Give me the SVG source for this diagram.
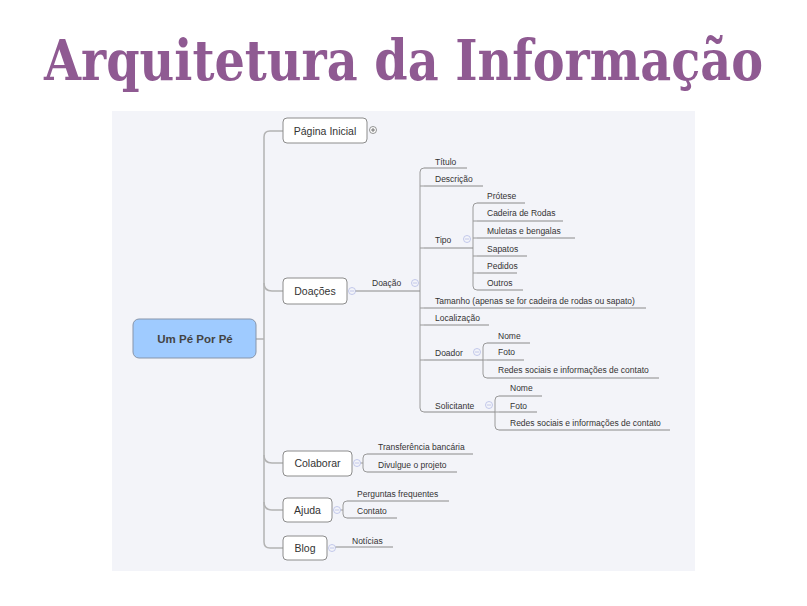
<svg xmlns="http://www.w3.org/2000/svg" width="807" height="606" viewBox="0 0 807 606">
<style>
.title{font-family:"DejaVu Serif",serif;font-weight:bold;font-size:56px;font-stretch:condensed;fill:#8f5a92}
.box{fill:#fff;stroke:#8c8c8c;stroke-width:1}
.bt{font-family:"Liberation Sans",Arial,sans-serif;font-size:10.5px;fill:#333;text-anchor:middle}
.rt{font-family:"Liberation Sans",Arial,sans-serif;font-size:11.5px;font-weight:bold;fill:#444;text-anchor:middle}
.st{font-family:"Liberation Sans",Arial,sans-serif;font-size:8.5px;fill:#333}
.ul{fill:none;stroke:#8a8a8a;stroke-width:1}
.cn{fill:none;stroke:#9a9a9a;stroke-width:1}
.tr{fill:none;stroke:#b3b3b3;stroke-width:1.5}
.ic{fill:#f3f4f9;stroke:#b5bde6;stroke-width:0.8}
.icg{fill:#fff;stroke:#777;stroke-width:0.8}
.im{stroke:#b5bde6;stroke-width:0.8}
.img{stroke:#555;stroke-width:0.8}
</style>
<rect x="0" y="0" width="807" height="606" fill="#fff"/>
<text class="title" x="403.5" y="80" text-anchor="middle" textLength="719" lengthAdjust="spacingAndGlyphs">Arquitetura da Informação</text>
<rect x="112" y="111" width="583" height="460" fill="#f3f4f9"/>

<g id="connectors">
<path class="tr" d="M256,339 H264"/>
<path class="tr" d="M283,131 H270 Q264,131 264,137 V542 Q264,548 270,548 H283"/>
<path class="tr" d="M264,283 Q264,291 272,291 H283"/>
<path class="tr" d="M264,455 Q264,463 272,463 H283"/>
<path class="tr" d="M264,502 Q264,510 272,510 H283"/>
<path class="cn" d="M424,168 Q420,168 420,172 V408 Q420,412 424,412"/>
<path class="cn" d="M420,186 H424 M420,248 H424 M420,308 H424 M420,325 H424 M420,360 H424"/>
<path class="cn" d="M477,203 Q473,203 473,207 V286 Q473,290 477,290"/>
<path class="cn" d="M473,221 H477 M473,238 H477 M473,256 H477 M473,273 H477"/>
<path class="cn" d="M487,343 Q483,343 483,347 V374 Q483,378 487,378"/>
<path class="cn" d="M483,360 H487"/>
<path class="cn" d="M499,396 Q495,396 495,400 V426 Q495,430 499,430"/>
<path class="cn" d="M495,412 H499"/>
<path class="cn" d="M367,454 Q363,454 363,458 V468 Q363,472 367,472"/>
<path class="cn" d="M347,501 Q343,501 343,505 V514 Q343,518 347,518"/>
<path class="cn" d="M360.5,463 H363 M340.5,510 H343"/>
</g>

<g id="root">
<rect x="133" y="319" width="123" height="39" rx="6" fill="#9fcbff" stroke="#8795aa" stroke-width="1"/>
<text class="rt" x="195" y="343">Um Pé Por Pé</text>
</g>

<g id="pagina-inicial">
<rect class="box" x="283" y="118" width="84" height="25" rx="4"/>
<text class="bt" x="325" y="134.5">Página Inicial</text>
<circle class="icg" cx="373" cy="130" r="3.5"/>
<path class="img" d="M371,130 H375 M373,128 V132"/>
</g>

<g id="doacoes">
<rect class="box" x="283" y="278" width="64" height="26" rx="4"/>
<text class="bt" x="315" y="294.5">Doações</text>
<circle class="ic" cx="352" cy="291" r="3.5"/>
<path class="im" d="M350,291 H354"/>
</g>

<g id="doacao">
<path class="ul" d="M355.5,291 H420"/>
<text class="st" x="372" y="286">Doação</text>
<circle class="ic" cx="415" cy="283" r="3.5"/>
<path class="im" d="M413,283 H417"/>
</g>

<g id="titulo"><path class="ul" d="M424,168 H467"/><text class="st" x="435" y="165">Título</text></g>
<g id="descricao"><path class="ul" d="M424,186 H483"/><text class="st" x="435" y="182">Descrição</text></g>
<g id="tipo"><path class="ul" d="M424,248 H473"/><text class="st" x="435" y="243">Tipo</text>
<circle class="ic" cx="467" cy="239" r="3.5"/><path class="im" d="M465,239 H469"/></g>
<g id="protese"><path class="ul" d="M477,203 H525"/><text class="st" x="487" y="199">Prótese</text></g>
<g id="cadeira"><path class="ul" d="M477,221 H563"/><text class="st" x="487" y="216">Cadeira de Rodas</text></g>
<g id="muletas"><path class="ul" d="M477,238 H575"/><text class="st" x="487" y="234">Muletas e bengalas</text></g>
<g id="sapatos"><path class="ul" d="M477,256 H527"/><text class="st" x="487" y="252">Sapatos</text></g>
<g id="pedidos"><path class="ul" d="M477,273 H517"/><text class="st" x="487" y="269">Pedidos</text></g>
<g id="outros"><path class="ul" d="M477,290 H523"/><text class="st" x="487" y="286">Outros</text></g>
<g id="tamanho"><path class="ul" d="M424,308 H646"/><text class="st" x="435" y="304">Tamanho (apenas se for cadeira de rodas ou sapato)</text></g>
<g id="localizacao"><path class="ul" d="M424,325 H489"/><text class="st" x="435" y="321">Localização</text></g>
<g id="doador"><path class="ul" d="M424,360 H483"/><text class="st" x="435" y="356">Doador</text>
<circle class="ic" cx="477" cy="352" r="3.5"/><path class="im" d="M475,352 H479"/></g>
<g id="doador-nome"><path class="ul" d="M487,343 H530"/><text class="st" x="498" y="339">Nome</text></g>
<g id="doador-foto"><path class="ul" d="M487,360 H524"/><text class="st" x="498" y="355">Foto</text></g>
<g id="doador-redes"><path class="ul" d="M487,378 H659"/><text class="st" x="498" y="373">Redes sociais e informações de contato</text></g>
<g id="solicitante"><path class="ul" d="M424,412 H495"/><text class="st" x="435" y="409">Solicitante</text>
<circle class="ic" cx="489" cy="405" r="3.5"/><path class="im" d="M487,405 H491"/></g>
<g id="solicitante-nome"><path class="ul" d="M499,396 H542"/><text class="st" x="510" y="391">Nome</text></g>
<g id="solicitante-foto"><path class="ul" d="M499,412 H537"/><text class="st" x="510" y="409">Foto</text></g>
<g id="solicitante-redes"><path class="ul" d="M499,430 H670"/><text class="st" x="510" y="426">Redes sociais e informações de contato</text></g>

<g id="colaborar">
<rect class="box" x="283" y="451" width="69" height="25" rx="4"/>
<text class="bt" x="317.5" y="467">Colaborar</text>
<circle class="ic" cx="357" cy="463" r="3.5"/><path class="im" d="M355,463 H359"/>
</g>
<g id="transferencia"><path class="ul" d="M367,454 H473"/><text class="st" x="378" y="450">Transferência bancária</text></g>
<g id="divulgue"><path class="ul" d="M367,472 H457"/><text class="st" x="378" y="468">Divulgue o projeto</text></g>

<g id="ajuda">
<rect class="box" x="283" y="498" width="49" height="24" rx="4"/>
<text class="bt" x="307.5" y="513.5">Ajuda</text>
<circle class="ic" cx="337" cy="510" r="3.5"/><path class="im" d="M335,510 H339"/>
</g>
<g id="perguntas"><path class="ul" d="M347,501 H449"/><text class="st" x="357" y="497">Perguntas frequentes</text></g>
<g id="contato"><path class="ul" d="M347,518 H397"/><text class="st" x="357" y="514">Contato</text></g>

<g id="blog">
<rect class="box" x="283" y="536" width="44" height="24" rx="4"/>
<text class="bt" x="305" y="551.5">Blog</text>
<circle class="ic" cx="332" cy="548" r="3.5"/><path class="im" d="M330,548 H334"/>
</g>
<g id="noticias"><path class="ul" d="M335.5,547 H393"/><text class="st" x="352" y="544">Notícias</text></g>
</svg>
